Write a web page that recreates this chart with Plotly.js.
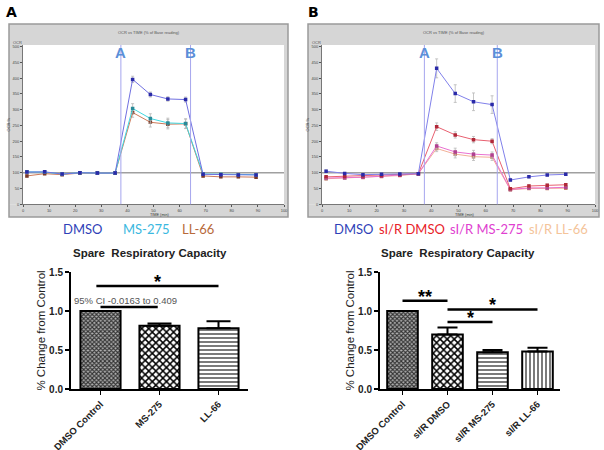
<!DOCTYPE html>
<html><head><meta charset="utf-8">
<script src="https://cdn.plot.ly/plotly-3.0.1.min.js"></script>
<style>html,body{margin:0;padding:0;background:#fff}#c{width:604px;height:450px}</style>
</head><body><div id="c"></div>
<script>
// ---- Top panels: OCR (% of baseline) vs time ----
const timeMin = [1.5, 8.3, 15, 21.8, 28.5, 35.3, 42, 48.8, 55.5, 62.3, 69, 75.8, 82.5, 89.3];
const injectionTimes = [37.5, 64.2];
const injectionLabels = ['A', 'B'];
const timeTicks = [0, 10, 20, 30, 40, 50, 60, 70, 80, 90, 100];
const ocrTicks = [0, 50, 100, 150, 200, 250, 300, 350, 400, 450, 500];

// Panel A
const aDMSO   = [102, 103, 96, 100, 99, 99, 396, 348, 334, 332, 95, 94, 93, 93];
const aDMSOe  = [3, 3, 3, 2, 2, 2, 10, 8, 7, 8, 3, 3, 3, 3];
const aMS275  = [103, 102, 96, 100, 99, 99, 304, 272, 258, 256, 96, 95, 94, 94];
const aMS275e = [3, 3, 3, 2, 2, 2, 15, 15, 15, 15, 3, 3, 3, 3];
const aLL66   = [90, 97, 94, 99, 99, 99, 291, 260, 254, 255, 90, 87, 87, 86];
const aLL66e  = [4, 3, 3, 2, 2, 2, 15, 15, 15, 15, 3, 3, 3, 3];
// Panel B
const bDMSO     = [105, 98, 94, 95, 96, 97, 431, 351, 325, 316, 77, 87, 93, 95];
const bDMSOe    = [4, 3, 3, 3, 2, 2, 30, 28, 28, 28, 4, 3, 3, 3];
const bSIR      = [87, 89, 90, 91, 94, 97, 246, 220, 205, 200, 49, 58, 60, 62];
const bSIRe     = [4, 4, 3, 3, 2, 2, 12, 10, 10, 8, 4, 4, 4, 4];
const bSIRMS    = [83, 84, 86, 89, 92, 97, 185, 166, 159, 156, 47, 52, 52, 54];
const bSIRMSe   = [4, 4, 3, 3, 2, 2, 10, 12, 12, 10, 3, 3, 3, 3];
const bSIRLL    = [81, 83, 85, 88, 91, 97, 177, 159, 151, 149, 46, 50, 50, 51];
const bSIRLLe   = [4, 4, 3, 3, 2, 2, 10, 12, 12, 10, 3, 3, 3, 3];

const legendA = ['DMSO', 'MS-275', 'LL-66'];
const legendB = ['DMSO', 'sI/R DMSO', 'sI/R MS-275', 'sI/R LL-66'];

// ---- Bottom panels: Spare respiratory capacity ----
const catsA = ['DMSO Control', 'MS-275', 'LL-66'];
const valsA = [1.0, 0.81, 0.78];
const errA  = [0, 0.03, 0.09];
const catsB = ['DMSO Control', 'sI/R DMSO', 'sI/R MS-275', 'sI/R LL-66'];
const valsB = [1.0, 0.70, 0.47, 0.48];
const errB  = [0, 0.09, 0.03, 0.05];
const barTicks = [0, 0.5, 1.0, 1.5];
const barTickText = ['0.0', '0.5', '1.0', '1.5'];
// significance brackets: start index, end index, height, label
const sigA_x0 = [-0.07, 0];
const sigA_x1 = [2.0, 0.97];
const sigA_y  = [1.32, 1.05];
const sigA_lab = ['*', ''];
const ciText = '95% CI -0.0163 to 0.409';
const sigB_x0 = [0, 1, 1];
const sigB_x1 = [1, 3, 2];
const sigB_y  = [1.13, 1.02, 0.86];
const sigB_lab = ['**', '*', '*'];

// ---------- build ----------
const W = 604, H = 450;
const px = x => x / W, py = y => 1 - y / H;

function lineTrace(y, e, lc, mc, xa, ya) {
  return {x: timeMin, y: y, xaxis: xa, yaxis: ya, type: 'scatter', mode: 'lines+markers',
    line: {color: lc, width: 1}, marker: {symbol: 'square', size: 3.5, color: mc},
    error_y: {type: 'data', array: e, visible: true, color: '#b8b8b8', thickness: 0.8, width: 1.5},
    showlegend: false, hoverinfo: 'skip'};
}

const traces = [
  lineTrace(aLL66, aLL66e, '#cc7a5a', '#7a3a28', 'x', 'y'),
  lineTrace(aMS275, aMS275e, '#40d8e0', '#2a8a98', 'x', 'y'),
  lineTrace(aDMSO, aDMSOe, '#7070e0', '#2a2aa8', 'x', 'y'),
  lineTrace(bSIRLL, bSIRLLe, '#f2b098', '#c88068', 'x2', 'y2'),
  lineTrace(bSIRMS, bSIRMSe, '#e870d0', '#b04090', 'x2', 'y2'),
  lineTrace(bSIR, bSIRe, '#e86070', '#b02838', 'x2', 'y2'),
  lineTrace(bDMSO, bDMSOe, '#8080ea', '#2a2aa8', 'x2', 'y2'),
  {x: catsA, y: valsA, type: 'bar', xaxis: 'x3', yaxis: 'y3', width: 0.68,
   marker: {color: '#fff', line: {color: '#000', width: 2},
     pattern: {shape: ['x', 'x', '-'], size: [3, 5, 4], solidity: [0.6, 0.5, 0.3],
       fgcolor: ['#333', '#000', '#222'], bgcolor: ['#b0b0b0', '#fff', '#fff'], fillmode: 'replace'}},
   error_y: {type: 'data', array: errA, arrayminus: errA.map(() => 0), symmetric: false,
     color: '#000', thickness: 2, width: 12},
   showlegend: false, hoverinfo: 'skip'},
  {x: catsB, y: valsB, type: 'bar', xaxis: 'x4', yaxis: 'y4', width: 0.68,
   marker: {color: '#fff', line: {color: '#000', width: 2},
     pattern: {shape: ['x', 'x', '-', '|'], size: [3, 5, 4, 4], solidity: [0.6, 0.5, 0.3, 0.3],
       fgcolor: ['#333', '#000', '#222', '#222'], bgcolor: ['#b0b0b0', '#fff', '#fff', '#fff'], fillmode: 'replace'}},
   error_y: {type: 'data', array: errB, arrayminus: errB.map(() => 0), symmetric: false,
     color: '#000', thickness: 2, width: 10},
   showlegend: false, hoverinfo: 'skip'}
];

const shapes = [];
const annotations = [];

// gray frames of the instrument screenshots (bands around the white plot area)
const frameTop = 24, frameBot = 217, plotTop = 45, plotBot = 204.3;
[[9, 288, 'x', 'y', 23, 284], [308, 599, 'x2', 'y2', 322, 595]].forEach(f => {
  const gray = {fillcolor: '#d6d6d6', line: {width: 0}, layer: 'below', xref: 'paper', yref: 'paper', type: 'rect'};
  shapes.push(Object.assign({}, gray, {x0: px(f[0]), x1: px(f[1]), y0: py(plotTop), y1: py(frameTop)}));
  shapes.push(Object.assign({}, gray, {x0: px(f[0]), x1: px(f[1]), y0: py(frameBot), y1: py(plotBot)}));
  shapes.push(Object.assign({}, gray, {x0: px(f[0]), x1: px(f[4]), y0: py(plotBot), y1: py(plotTop)}));
  shapes.push(Object.assign({}, gray, {x0: px(f[5]), x1: px(f[1]), y0: py(plotBot), y1: py(plotTop)}));
  shapes.push({type: 'rect', xref: 'paper', yref: 'paper', x0: px(f[0]), x1: px(f[1]),
    y0: py(frameBot), y1: py(frameTop), line: {color: '#9a9a9a', width: 1.5}, layer: 'below'});
  annotations.push({xref: 'paper', yref: 'paper', x: px((f[0] + f[1]) / 2), y: py(28), xanchor: 'center',
    text: 'OCR vs TIME (% of Base reading)', showarrow: false, font: {size: 4, color: '#555'}});
  annotations.push({xref: 'paper', yref: 'paper', x: px(f[4] - 12), y: py(38), xanchor: 'left',
    text: 'OCR', showarrow: false, font: {size: 4, color: '#555'}});
  annotations.push({xref: 'paper', yref: 'paper', x: px((f[4] + f[5]) / 2 + 6), y: py(214.5), xanchor: 'center',
    yanchor: 'middle', text: 'TIME (min)', showarrow: false, font: {size: 3.8, color: '#333'}});
  // 100 % line
  shapes.push({type: 'line', xref: f[2] + ' domain', yref: f[3], x0: 0, x1: 1, y0: 100, y1: 100,
    line: {color: '#a0a0a0', width: 1.5}, layer: 'below'});
  injectionTimes.forEach((t, i) => {
    shapes.push({type: 'line', xref: f[2], yref: f[3] + ' domain', x0: t, x1: t, y0: 0, y1: 1,
      line: {color: '#a6a6ee', width: 1}});
    annotations.push({xref: f[2], yref: f[3] + ' domain', x: t, y: 0.955, xanchor: 'center', yanchor: 'middle',
      text: '<b>' + injectionLabels[i] + '</b>', showarrow: false,
      font: {size: 15, color: '#5b8fd8', family: 'Liberation Sans, Arial'}});
  });
});

// panel letters
annotations.push({xref: 'paper', yref: 'paper', x: px(4), y: py(12), xanchor: 'left', yanchor: 'middle',
  text: '<b>A</b>', showarrow: false, font: {size: 14, color: '#000', family: 'DejaVu Sans'}});
annotations.push({xref: 'paper', yref: 'paper', x: px(306), y: py(12), xanchor: 'left', yanchor: 'middle',
  text: '<b>B</b>', showarrow: false, font: {size: 14, color: '#000', family: 'DejaVu Sans'}});

// legend texts (left-anchored at their reference positions)
const legFont = 'Lato, Liberation Sans';
const colsA = ['#2f3fb8', '#3ab8e0', '#b86a3a'];
const posA = [61, 121, 180];
legendA.forEach((t, i) => annotations.push({xref: 'paper', yref: 'paper', x: px(posA[i]), y: py(229),
  xanchor: 'left', text: t, showarrow: false, font: {size: 13, color: colsA[i], family: legFont}}));
const colsB = ['#2f3fb8', '#e8222a', '#e040d0', '#f4c49a'];
const posB = [332, 377, 448, 527];
legendB.forEach((t, i) => annotations.push({xref: 'paper', yref: 'paper', x: px(posB[i]), y: py(229),
  xanchor: 'left', text: t, showarrow: false, font: {size: 13, color: colsB[i], family: legFont}}));

// bar chart titles
[[150, 'Spare  Respiratory Capacity'], [458, 'Spare  Respiratory Capacity']].forEach(t =>
  annotations.push({xref: 'paper', yref: 'paper', x: px(t[0]), y: py(253), xanchor: 'center',
    text: '<b>' + t[1] + '</b>',
    showarrow: false, font: {size: 11.5, color: '#222', family: 'Liberation Sans, Arial'}}));

// significance brackets
function addSig(x0s, x1s, ys, labs, xa, ya) {
  x0s.forEach((x0, i) => {
    shapes.push({type: 'line', xref: xa, yref: ya, x0: x0, x1: x1s[i], y0: ys[i], y1: ys[i],
      line: {color: '#000', width: 2.5}});
    if (labs[i]) annotations.push({xref: xa, yref: ya, x: (x0 + x1s[i]) / 2, y: ys[i], xanchor: 'center',
      yanchor: 'bottom', yshift: -8, text: '<b>' + labs[i] + '</b>', showarrow: false,
      font: {size: 18, color: '#000', family: 'Liberation Sans, Arial'}});
  });
}
addSig(sigA_x0, sigA_x1, sigA_y, sigA_lab, 'x3', 'y3');
addSig(sigB_x0, sigB_x1, sigB_y, sigB_lab, 'x4', 'y4');
annotations.push({xref: 'x3', yref: 'y3', x: 0.43, y: 1.14, xanchor: 'center', text: ciText, showarrow: false,
  font: {size: 9.5, color: '#555', family: 'Liberation Sans, Arial'}});

const smallAxX = {range: [0, 100], tickvals: timeTicks, ticks: 'outside', ticklen: 1.5, tickcolor: '#555',
  tickfont: {size: 4, color: '#444'}, showgrid: false, zeroline: false, showline: true,
  linecolor: '#777', linewidth: 1, mirror: false};
const smallAxY = {range: [0, 505], tickvals: ocrTicks, ticks: 'outside', ticklen: 2, tickcolor: '#555',
  tickfont: {size: 4, color: '#444'}, showgrid: false, zeroline: false, showline: true,
  linecolor: '#777', linewidth: 1, title: {text: 'OCR %', font: {size: 4, color: '#444'}, standoff: 2}};

const barFont = {size: 9.5, color: '#222', family: 'Liberation Sans, Arial', weight: 'bold'};
function barX(n, dom) {
  return {domain: dom, range: [-0.5, n - 0.5], tickangle: -45, ticks: 'outside', ticklen: 4,
    tickcolor: '#000', tickwidth: 1.5, showline: true, linecolor: '#000', linewidth: 2,
    tickfont: barFont, showgrid: false, zeroline: false};
}
function barY(dom, anchor) {
  return {domain: dom, anchor: anchor, range: [0, 1.5], tickvals: barTicks, ticktext: barTickText,
    ticks: 'outside', ticklen: 4, tickcolor: '#000', tickwidth: 1.5, showline: true, linecolor: '#000',
    linewidth: 2, showgrid: false, zeroline: false, tickfont: Object.assign({}, barFont, {size: 10}),
    title: {text: '% Change from Control', font: {size: 11.5, color: '#222', family: 'Liberation Sans, Arial'}, standoff: 1}};
}

const layout = {
  width: W, height: H, margin: {l: 0, r: 0, t: 0, b: 0},
  paper_bgcolor: '#fff', plot_bgcolor: '#fff', showlegend: false,
  font: {family: 'Liberation Sans, Arial'},
  xaxis: Object.assign({}, smallAxX, {domain: [px(23), px(284)], anchor: 'y'}),
  yaxis: Object.assign({}, smallAxY, {domain: [py(204.3), py(45)], anchor: 'x'}),
  xaxis2: Object.assign({}, smallAxX, {domain: [px(322), px(595)], anchor: 'y2'}),
  yaxis2: Object.assign({}, smallAxY, {domain: [py(204.3), py(45)], anchor: 'x2'}),
  xaxis3: Object.assign(barX(3, [px(71), px(248)]), {anchor: 'y3'}),
  yaxis3: barY([py(389), py(272)], 'x3'),
  xaxis4: Object.assign(barX(4, [px(380), px(560)]), {anchor: 'y4'}),
  yaxis4: barY([py(389), py(272)], 'x4'),
  shapes: shapes, annotations: annotations, bargap: 0.3
};

Plotly.newPlot('c', traces, layout, {staticPlot: true, displayModeBar: false});
</script></body></html>
